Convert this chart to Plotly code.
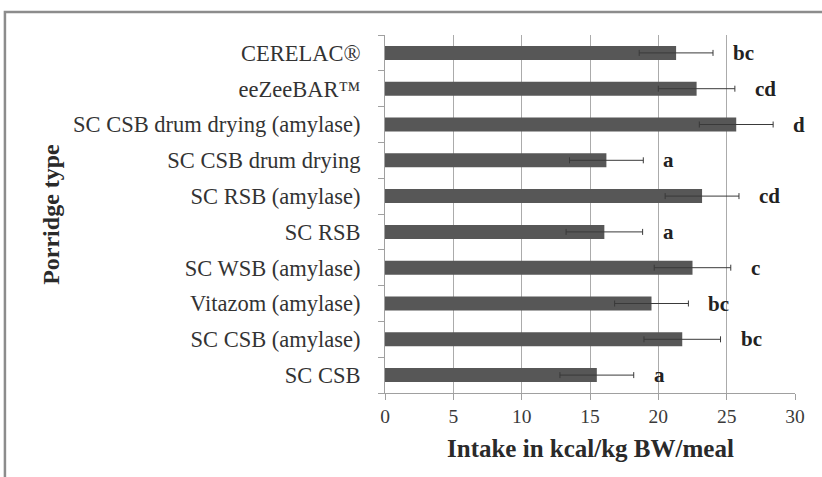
import plotly.graph_objects as go

# Data (bottom to top as drawn)
categories = [
    "SC CSB",
    "SC CSB (amylase)",
    "Vitazom (amylase)",
    "SC WSB (amylase)",
    "SC RSB",
    "SC RSB (amylase)",
    "SC CSB drum drying",
    "SC CSB drum drying (amylase)",
    "eeZeeBAR™",
    "CERELAC®",
]
intake = [15.5, 21.75, 19.5, 22.5, 16.05, 23.2, 16.2, 25.7, 22.8, 21.3]
sd = [2.7, 2.8, 2.7, 2.8, 2.8, 2.7, 2.7, 2.7, 2.8, 2.7]
letters = ["a", "bc", "bc", "c", "a", "cd", "a", "d", "cd", "bc"]
x_ticks = [0, 5, 10, 15, 20, 25, 30]

FONT = "Liberation Serif"

fig = go.Figure()
fig.add_trace(go.Bar(
    y=categories,
    x=intake,
    orientation="h",
    marker=dict(color="#575757", line=dict(width=0)),
    error_x=dict(type="data", array=sd, visible=True, color="#3a3a3a",
                 thickness=1, width=3),
    showlegend=False,
))

for cat, m, s, lab in zip(categories, intake, sd, letters):
    fig.add_annotation(
        x=m + s, y=cat, xref="x", yref="y", text="<b>%s</b>" % lab,
        showarrow=False, xanchor="left", xshift=18,
        font=dict(family=FONT, size=21, color="#222222"),
    )

# axis titles
fig.add_annotation(
    x=0.5, y=-0.155, xref="paper", yref="paper",
    text="<b>Intake in kcal/kg BW/meal</b>", showarrow=False,
    xanchor="center", yanchor="middle",
    font=dict(family=FONT, size=25, color="#2a2a2a"),
)
fig.add_annotation(
    x=-0.815, y=0.5, xref="paper", yref="paper",
    text="<b>Porridge type</b>", showarrow=False, textangle=-90,
    xanchor="center", yanchor="middle",
    font=dict(family=FONT, size=24, color="#2a2a2a"),
)

# outer frame (top and left edges)
fig.add_shape(
    type="path", xref="paper", yref="paper",
    path="M -0.927 -0.3 L -0.927 1.064 L 1.2 1.064",
    line=dict(color="#8c8c8c", width=2.5),
)

fig.update_layout(
    width=822, height=477,
    margin=dict(l=385, r=27, t=35, b=84),
    paper_bgcolor="white", plot_bgcolor="white",
    bargap=0.61,
    font=dict(family=FONT, color="#333333"),
)
fig.update_xaxes(
    range=[0, 30], tickvals=x_ticks, showgrid=True, gridcolor="#ababab",
    gridwidth=1, showline=True, linecolor="#a0a0a0", linewidth=1,
    ticks="outside", ticklen=6, tickcolor="#a0a0a0",
    tickfont=dict(family=FONT, size=19.5, color="#3a3a3a"),
    zeroline=False,
)
fig.update_yaxes(
    categoryorder="array", categoryarray=categories,
    showline=True, linecolor="#a0a0a0", linewidth=1,
    ticks="outside", ticklen=6, tickcolor="#a0a0a0", tickson="boundaries",
    tickfont=dict(family=FONT, size=22.5, color="#333333"),
    ticklabelstandoff=19,
)

fig.write_html("out.html", config={"displayModeBar": False},
               post_script="document.body.style.margin='0';")
